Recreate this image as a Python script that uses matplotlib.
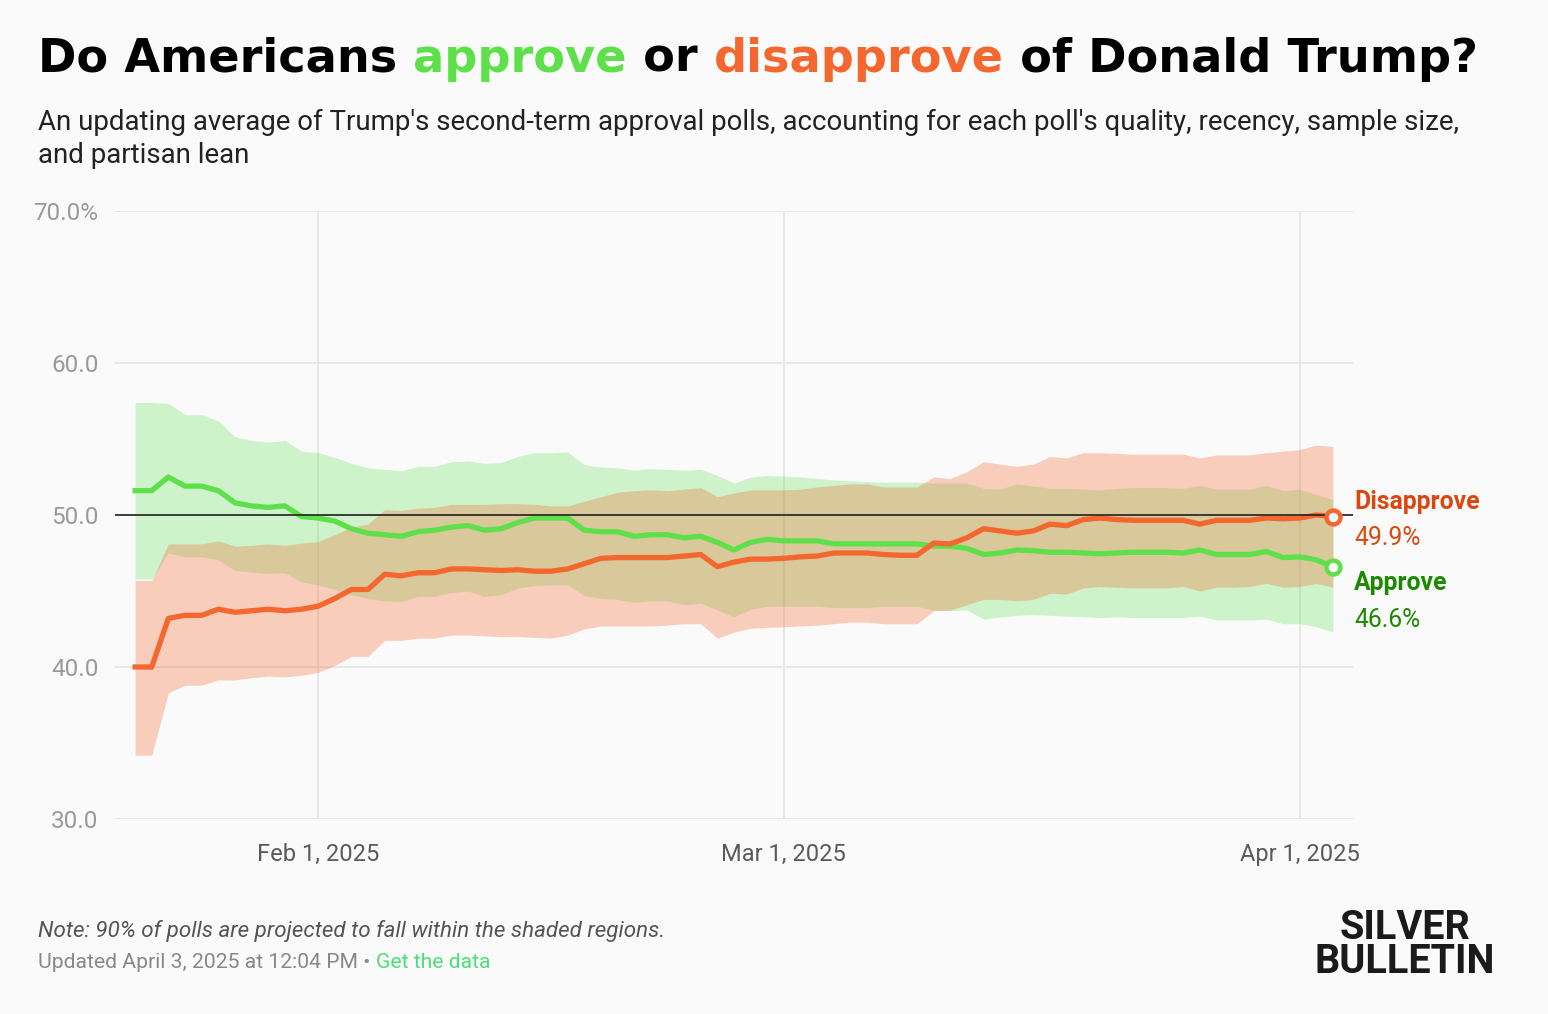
import numpy as np
import matplotlib
matplotlib.use("Agg")
import matplotlib.pyplot as plt
import matplotlib.dates as mdates

# daily poll average, Jan 21 - Apr 3 2025
dates = np.arange(np.datetime64("2025-01-21"), np.datetime64("2025-04-04"))

approve = [51.6, 51.6, 52.5, 51.9, 51.9, 51.6, 50.8, 50.6, 50.5, 50.6,
           49.9, 49.8, 49.6, 49.1, 48.8, 48.7, 48.6, 48.9, 49.0, 49.2,
           49.3, 49.0, 49.1, 49.5, 49.8, 49.8, 49.8, 49.0, 48.9, 48.9,
           48.6, 48.7, 48.7, 48.5, 48.6, 48.2, 47.7, 48.2, 48.4, 48.3,
           48.3, 48.3, 48.1, 48.1, 48.1, 48.1, 48.1, 48.1, 47.95, 47.95,
           47.8, 47.4, 47.5, 47.7, 47.65, 47.55, 47.55, 47.5, 47.45, 47.5,
           47.55, 47.55, 47.55, 47.5, 47.7, 47.4, 47.4, 47.4, 47.6, 47.2,
           47.25, 47.05, 46.6]
disapprove = [40.0, 40.0, 43.2, 43.4, 43.4, 43.8, 43.6, 43.7, 43.8, 43.7,
              43.8, 44.0, 44.5, 45.1, 45.1, 46.1, 46.0, 46.2, 46.2, 46.45,
              46.45, 46.4, 46.35, 46.4, 46.3, 46.3, 46.45, 46.8, 47.15, 47.2,
              47.2, 47.2, 47.2, 47.3, 47.4, 46.6, 46.9, 47.1, 47.1, 47.15,
              47.25, 47.3, 47.5, 47.5, 47.5, 47.4, 47.35, 47.35, 48.15, 48.1,
              48.5, 49.1, 48.95, 48.8, 48.95, 49.4, 49.3, 49.7, 49.8, 49.7,
              49.65, 49.65, 49.65, 49.65, 49.4, 49.65, 49.65, 49.65, 49.8, 49.75,
              49.8, 50.0, 49.9]

approve_hi = [57.4, 57.4, 57.35, 56.6, 56.6, 56.2, 55.15, 54.9, 54.8, 54.9,
              54.2, 54.1, 53.8, 53.4, 53.1, 53.0, 52.9, 53.2, 53.2, 53.5,
              53.55, 53.4, 53.45, 53.85, 54.1, 54.1, 54.15, 53.3, 53.15, 53.1,
              52.95, 53.05, 53.0, 52.95, 53.0, 52.6, 52.1, 52.5, 52.6, 52.55,
              52.5, 52.4, 52.3, 52.25, 52.2, 52.15, 52.15, 52.15, 52.1, 52.1,
              52.1, 51.75, 51.7, 52.05, 51.9, 51.75, 51.75, 51.7, 51.65, 51.75,
              51.8, 51.8, 51.8, 51.75, 51.95, 51.7, 51.7, 51.7, 51.95, 51.6,
              51.7, 51.35, 51.0]
approve_lo = [45.8, 45.8, 47.5, 47.25, 47.25, 47.05, 46.35, 46.25, 46.15, 46.2,
              45.6, 45.4, 45.1, 44.75, 44.5, 44.35, 44.3, 44.65, 44.65, 44.9,
              45.0, 44.65, 44.75, 45.2, 45.35, 45.4, 45.4, 44.7, 44.5, 44.45,
              44.25, 44.35, 44.35, 44.1, 44.2, 43.75, 43.3, 43.8, 44.0, 44.0,
              44.0, 44.0, 43.9, 43.9, 43.9, 44.0, 44.0, 44.0, 43.75, 43.7,
              43.75, 43.15, 43.3, 43.4, 43.45, 43.4, 43.35, 43.3, 43.25, 43.3,
              43.25, 43.25, 43.25, 43.25, 43.35, 43.1, 43.1, 43.1, 43.15, 42.85,
              42.85, 42.65, 42.3]
disapprove_hi = [45.7, 45.7, 48.1, 48.1, 48.1, 48.3, 47.95, 48.0, 48.1, 48.0,
                 48.15, 48.25, 48.7, 49.2, 49.4, 50.35, 50.3, 50.45, 50.5, 50.7,
                 50.7, 50.7, 50.75, 50.75, 50.7, 50.6, 50.6, 50.9, 51.2, 51.5,
                 51.6, 51.65, 51.6, 51.7, 51.8, 51.2, 51.45, 51.65, 51.65, 51.65,
                 51.7, 51.85, 51.95, 52.05, 52.05, 51.85, 51.85, 51.85, 52.5, 52.4,
                 52.85, 53.5, 53.35, 53.2, 53.35, 53.85, 53.75, 54.1, 54.1, 54.05,
                 54.0, 54.0, 54.0, 54.0, 53.75, 53.95, 53.95, 53.95, 54.1, 54.2,
                 54.3, 54.6, 54.5]
disapprove_lo = [34.2, 34.2, 38.3, 38.8, 38.8, 39.15, 39.15, 39.3, 39.4, 39.35,
                 39.45, 39.65, 40.1, 40.7, 40.7, 41.75, 41.75, 41.9, 41.9, 42.1,
                 42.1, 42.05, 42.0, 42.0, 41.95, 41.9, 42.1, 42.5, 42.7, 42.7,
                 42.7, 42.7, 42.75, 42.85, 42.85, 41.9, 42.3, 42.55, 42.6, 42.65,
                 42.7, 42.75, 42.85, 42.95, 42.95, 42.85, 42.85, 42.85, 43.7, 43.75,
                 44.1, 44.45, 44.45, 44.35, 44.45, 44.85, 44.8, 45.2, 45.3, 45.25,
                 45.2, 45.2, 45.2, 45.3, 45.0, 45.25, 45.25, 45.3, 45.5, 45.25,
                 45.3, 45.5, 45.25]

y_ticks = [30, 40, 50, 60, 70]
y_labels = ["30.0", "40.0", "50.0", "60.0", "70.0%"]
x_ticks = ["2025-02-01", "2025-03-01", "2025-04-01"]
x_labels = ["Feb 1, 2025", "Mar 1, 2025", "Apr 1, 2025"]

GREEN = "#5ee04a"
ORANGE = "#f4672f"
BG = "#fafafa"
NARROW = ["Roboto", "DejaVu Sans"]

fig = plt.figure(figsize=(15.48, 10.14), dpi=100, facecolor=BG)
ax = fig.add_axes([115 / 1548, 1 - 819 / 1014, (1353 - 115) / 1548, (819 - 211) / 1014])
ax.set_facecolor(BG)

ax.fill_between(dates, approve_lo, approve_hi, color=GREEN, alpha=0.28, lw=0, zorder=2)
ax.fill_between(dates, disapprove_lo, disapprove_hi, color=ORANGE, alpha=0.3, lw=0, zorder=2)
ax.plot(dates, approve, color=GREEN, lw=3.8, zorder=4, solid_joinstyle="round")
ax.plot(dates, disapprove, color=ORANGE, lw=3.8, zorder=4, solid_joinstyle="round")
ax.axhline(50, color="#222222", lw=1.2, zorder=5)
ax.plot(dates[-1], approve[-1], "o", ms=10, mfc="white", mec=GREEN, mew=3.2, zorder=6)
ax.plot(dates[-1], disapprove[-1], "o", ms=10, mfc="white", mec=ORANGE, mew=3.2, zorder=6)

ax.set_ylim(30, 70)
ax.set_xlim(dates[0] - np.timedelta64(1, "D") - np.timedelta64(5, "h"),
            dates[-1] + np.timedelta64(1, "D") + np.timedelta64(5, "h"))
ax.set_yticks(y_ticks)
ax.set_yticklabels(y_labels)
ax.set_xticks([mdates.datestr2num(d) for d in x_ticks])
ax.set_xticklabels(x_labels)
ax.grid(True, color="#e6e6e6", lw=1.3, zorder=1)
ax.tick_params(length=0)
ax.tick_params(axis="y", pad=12, labelsize=17.5, labelcolor="#9a9a9a")
ax.tick_params(axis="x", pad=17, labelsize=17, labelcolor="#5a5a5a")
for lab in ax.get_xticklabels() + ax.get_yticklabels():
    lab.set_family(NARROW)
for s in ax.spines.values():
    s.set_visible(False)

# end labels (y in axes fraction)
tr = ax.transAxes
ax.text(1.001, (50.86 - 30) / 40, "Disapprove", transform=tr, color="#d9480f",
        fontsize=17.8, fontweight="bold", family=NARROW, va="center", ha="left")
ax.text(1.001, (48.49 - 30) / 40, "49.9%", transform=tr, color="#d9480f",
        fontsize=17.8, family=NARROW, va="center", ha="left")
ax.text(1.001, (45.53 - 30) / 40, "Approve", transform=tr, color="#1a8a00",
        fontsize=17.8, fontweight="bold", family=NARROW, va="center", ha="left")
ax.text(1.001, (43.09 - 30) / 40, "46.6%", transform=tr, color="#1a8a00",
        fontsize=17.8, family=NARROW, va="center", ha="left")

# title with coloured words
renderer = fig.canvas.get_renderer()
x = 38 / 1548
for word, col in [("Do Americans ", "black"), ("approve", GREEN), (" or ", "black"),
                  ("disapprove", ORANGE), (" of Donald Trump?", "black")]:
    t = fig.text(x, 1 - 72 / 1014, word, color=col, fontsize=33.3, family="DejaVu Sans",
                 fontweight="bold", va="baseline")
    x += t.get_window_extent(renderer=renderer).width / fig.bbox.width

fig.text(38 / 1548, 1 - 130 / 1014,
         "An updating average of Trump's second-term approval polls, accounting for each poll's quality, recency, sample size,",
         fontsize=19.9, family="Roboto", color="#222222", va="baseline")
fig.text(38 / 1548, 1 - 163 / 1014, "and partisan lean", fontsize=19.9, family="Roboto",
         color="#222222", va="baseline")

fig.text(38 / 1548, 1 - 937 / 1014, "Note: 90% of polls are projected to fall within the shaded regions.",
         fontsize=16.1, color="#555555", style="italic", family=NARROW, va="baseline")
x = 38 / 1548
for word, col in [("Updated April 3, 2025 at 12:04 PM \u2022 ", "#888888"), ("Get the data", "#4be07a")]:
    t = fig.text(x, 1 - 968 / 1014, word, color=col, fontsize=15.2, family=NARROW, va="baseline")
    x += t.get_window_extent(renderer=renderer).width / fig.bbox.width

fig.text(1405 / 1548, 1 - 909 / 1014, "SILVER\nBULLETIN", fontsize=28.5, fontweight="bold",
         family=NARROW, color="#1a1a1a", ha="center", va="top", multialignment="center",
         linespacing=0.86)

fig.savefig("out.png", dpi=100, facecolor=BG)
